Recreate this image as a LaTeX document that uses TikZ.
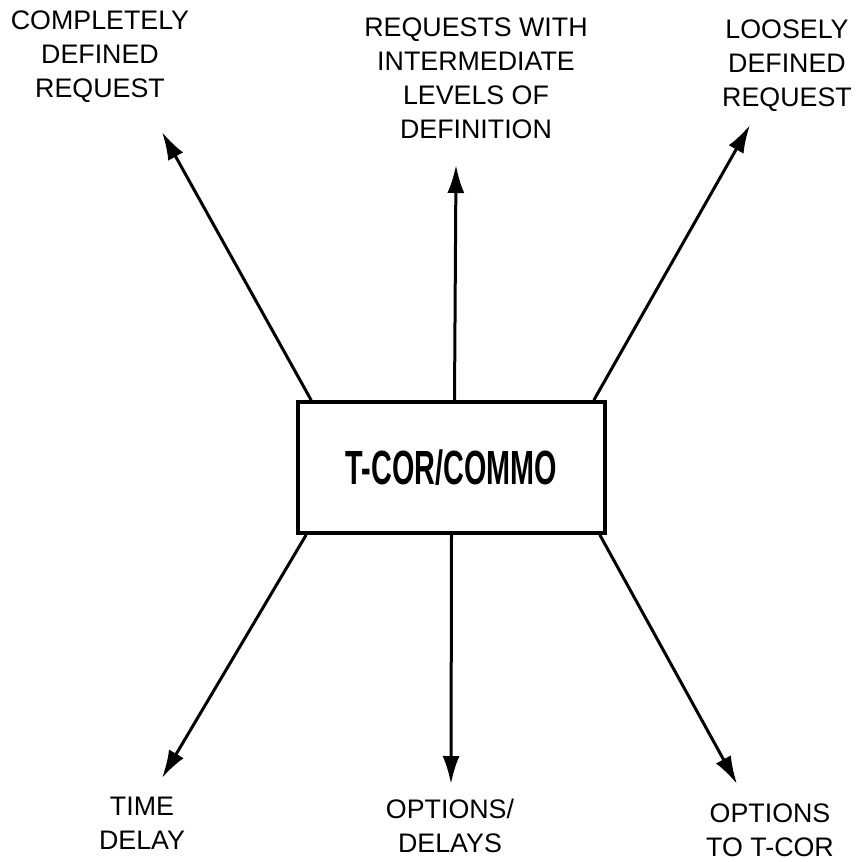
\documentclass[tikz,border=0pt]{standalone}
\usepackage{fontspec}
\setmainfont{Liberation Sans}
\usetikzlibrary{arrows.meta}

\begin{document}
\begin{tikzpicture}[x=0.5pt, y=-0.5pt, line width=1.5pt,
  every node/.style={font=\fontsize{13.4}{17}\selectfont, align=center, inner sep=0pt},
  flow/.style={-{Latex[length=14pt, width=8.5pt]}}]
	\useasboundingbox (0,0) rectangle (856,862);
	
	\node [draw, line width=1.8pt, minimum width=153.5pt, minimum height=65.5pt] (tcor) at (451.5,467.5)
		{\scalebox{0.6}[1]{\fontsize{24}{28}\selectfont\bfseries T-COR/COMMO}};
	
	\node (compl) at (100,57) {COMPLETELY\\DEFINED\\REQUEST};
	\node (inter) at (476,78) {REQUESTS WITH\\INTERMEDIATE\\LEVELS OF\\DEFINITION};
	\node (loose) at (787,66) {LOOSELY\\DEFINED\\REQUEST};
	\node (delay) at (142,823) {TIME\\DELAY};
	\node (optdel) at (450,826) {OPTIONS/\\DELAYS};
	\node (opttc) at (770,830) {OPTIONS\\TO T-COR};
	
	\coordinate (tipA) at (162,132);
	\coordinate (tipB) at (456,165);
	\coordinate (tipC) at (750,125);
	\coordinate (tipD) at (162,778);
	\coordinate (tipE) at (451,784);
	\coordinate (tipF) at (737,784);
	
	\draw [flow] ([xshift=7.5pt]tcor.north west) -- (tipA);
	\draw [flow] ([xshift=1.5pt]tcor.north) -- (tipB);
	\draw [flow] ([xshift=-6.5pt]tcor.north east) -- (tipC);
	\draw [flow] ([xshift=5pt]tcor.south west) -- (tipD);
	\draw [flow] (tcor.south) -- (tipE);
	\draw [flow] ([xshift=-3.5pt]tcor.south east) -- (tipF);
\end{tikzpicture}
\end{document}
